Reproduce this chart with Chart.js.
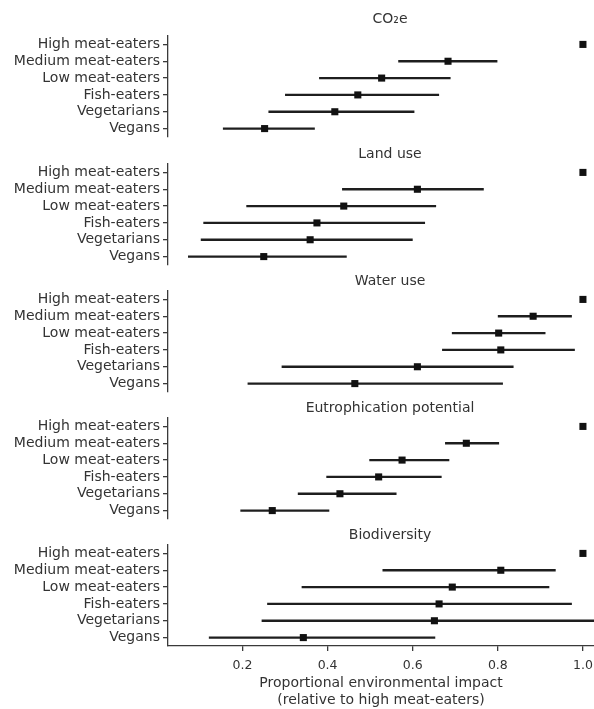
<!DOCTYPE html>
<html>
<head>
<meta charset="utf-8">
<script src="https://cdn.jsdelivr.net/npm/chart.js@4.4.1/dist/chart.umd.min.js"></script>
<style>
  body { margin: 0; background: #fff; width: 594px; height: 709px; overflow: hidden; position: relative; }
  canvas { position: absolute; left: 0; }
</style>
</head>
<body>
<canvas id="p0" width="594" height="133" style="top:6px"></canvas>
<canvas id="p1" width="594" height="133" style="top:134px"></canvas>
<canvas id="p2" width="594" height="133" style="top:261px"></canvas>
<canvas id="p3" width="594" height="133" style="top:388px"></canvas>
<canvas id="p4" width="594" height="194" style="top:515px"></canvas>
<script>
const groups = ["High meat-eaters", "Medium meat-eaters", "Low meat-eaters", "Fish-eaters", "Vegetarians", "Vegans"];
const panelTitles = ["CO₂e", "Land use", "Water use", "Eutrophication potential", "Biodiversity"];

// mean and 95% interval, relative to high meat-eaters
const co2Mean = [1.0, 0.683, 0.527, 0.471, 0.417, 0.252];
const co2Low  = [1.0, 0.566, 0.380, 0.300, 0.261, 0.154];
const co2High = [1.0, 0.799, 0.689, 0.662, 0.604, 0.370];

const landMean = [1.0, 0.611, 0.438, 0.375, 0.359, 0.250];
const landLow  = [1.0, 0.434, 0.209, 0.108, 0.102, 0.072];
const landHigh = [1.0, 0.767, 0.655, 0.629, 0.600, 0.445];

const waterMean = [1.0, 0.883, 0.802, 0.807, 0.611, 0.464];
const waterLow  = [1.0, 0.800, 0.692, 0.669, 0.292, 0.212];
const waterHigh = [1.0, 0.974, 0.912, 0.981, 0.837, 0.812];

const eutroMean = [1.0, 0.726, 0.575, 0.520, 0.429, 0.270];
const eutroLow  = [1.0, 0.676, 0.498, 0.397, 0.330, 0.195];
const eutroHigh = [1.0, 0.803, 0.686, 0.668, 0.562, 0.404];

const bioMean = [1.0, 0.807, 0.693, 0.662, 0.651, 0.343];
const bioLow  = [1.0, 0.529, 0.339, 0.258, 0.245, 0.121];
const bioHigh = [1.0, 0.936, 0.921, 0.974, 1.080, 0.653];

const xTicks = [0.2, 0.4, 0.6, 0.8, 1.0];
const xMin = 0.025;
const xMax = 1.026;

const panels = [
  [co2Mean, co2Low, co2High],
  [landMean, landLow, landHigh],
  [waterMean, waterLow, waterHigh],
  [eutroMean, eutroLow, eutroHigh],
  [bioMean, bioLow, bioHigh]
];

const font = "DejaVu Sans";
const textColor = "#333";
const axisColor = "#3a3a3a";

// horizontal interval lines, drawn under the squares
const errorBars = {
  id: "errorBars",
  beforeDatasetsDraw(chart) {
    const ctx = chart.ctx;
    const x = chart.scales.x;
    const meta = chart.getDatasetMeta(0);
    const data = chart.data.datasets[0].data;
    ctx.save();
    ctx.strokeStyle = "#1e1e1e";
    ctx.lineWidth = 2.4;
    data.forEach((p, i) => {
      if (p.hi <= p.lo) return;
      const py = meta.data[i].y;
      ctx.beginPath();
      ctx.moveTo(x.getPixelForValue(p.lo), py);
      ctx.lineTo(x.getPixelForValue(p.hi), py);
      ctx.stroke();
    });
    ctx.restore();
  }
};

const panelTitle = {
  id: "panelTitle",
  afterDraw(chart, args, opts) {
    const ctx = chart.ctx;
    ctx.save();
    ctx.fillStyle = textColor;
    ctx.font = "14px '" + font + "'";
    ctx.textAlign = "center";
    ctx.textBaseline = "middle";
    ctx.fillText(opts.text, 390, chart.chartArea.top - opts.gap);
    ctx.restore();
  }
};

panels.forEach((vals, k) => {
  const last = k === panels.length - 1;
  const points = groups.map((g, i) => ({ x: vals[0][i], y: g, lo: vals[1][i], hi: vals[2][i] }));

  new Chart(document.getElementById("p" + k), {
    type: "scatter",
    data: {
      datasets: [{
        data: points,
        pointStyle: "rect",
        pointRadius: 5,
        pointHoverRadius: 5,
        backgroundColor: "#111",
        borderColor: "#111",
        borderWidth: 0
      }]
    },
    options: {
      responsive: false,
      animation: false,
      devicePixelRatio: 1,
      layout: { autoPadding: false, padding: { top: 30, bottom: last ? 0 : 2, left: 0, right: 0 } },
      plugins: {
        legend: { display: false },
        tooltip: { enabled: false },
        panelTitle: { text: panelTitles[k], gap: k === 0 ? 17 : 10 }
      },
      scales: {
        x: {
          type: "linear",
          min: xMin,
          max: xMax,
          display: last,
          afterBuildTicks(s) { s.ticks = xTicks.map(v => ({ value: v })); },
          afterFit(s) {
            if (last) s.height = 63;
            s.paddingLeft = 0;
            s.paddingRight = 0;
          },
          border: { display: true, color: axisColor, width: 1.3 },
          grid: { drawOnChartArea: false, tickLength: 5, color: axisColor, lineWidth: 1.3 },
          ticks: {
            color: textColor,
            padding: 7,
            font: { family: font, size: 12.5 },
            callback: v => v.toFixed(1)
          },
          title: {
            display: true,
            text: ["Proportional environmental impact", "(relative to high meat-eaters)"],
            color: textColor,
            font: { family: font, size: 14, lineHeight: 1.2 },
            padding: { top: 4, bottom: 0 }
          }
        },
        y: {
          type: "category",
          labels: groups,
          offset: true,
          afterFit(s) {
            s.width = 168;
            s.paddingTop = 0;
            s.paddingBottom = 0;
          },
          border: { display: true, color: axisColor, width: 1.3 },
          grid: { drawOnChartArea: false, tickLength: 5, color: axisColor, lineWidth: 1.3 },
          ticks: {
            color: textColor,
            padding: 3,
            autoSkip: false,
            font: { family: font, size: 14 }
          }
        }
      }
    },
    plugins: [errorBars, panelTitle]
  });
});
</script>
</body>
</html>
